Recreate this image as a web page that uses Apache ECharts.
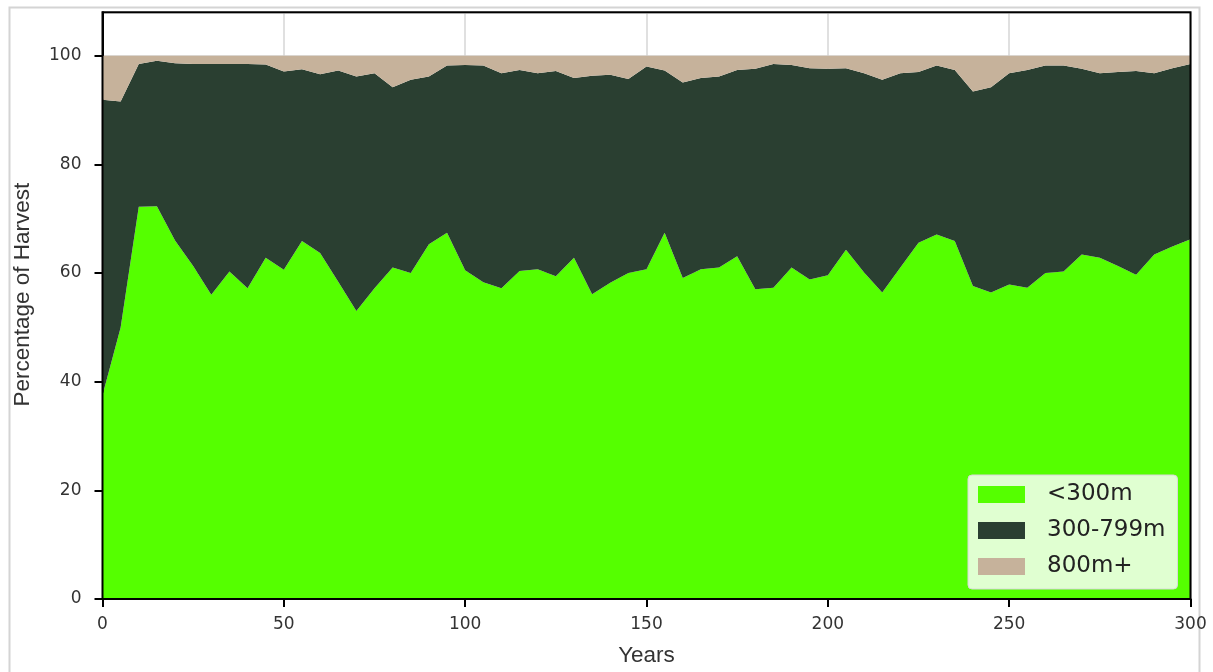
<!DOCTYPE html>
<html>
<head>
<meta charset="utf-8">
<script src="https://cdn.jsdelivr.net/npm/echarts@6/dist/echarts.min.js"></script>
<style>
html,body{margin:0;padding:0;background:#fff;}
#chart{width:1213px;height:672px;}
</style>
</head>
<body>
<div id="chart"></div>
<script>
const years = [0,5,10,15,20,25,30,35,40,45,50,55,60,65,70,75,80,85,90,95,
  100,105,110,115,120,125,130,135,140,145,150,155,160,165,170,175,180,185,190,195,
  200,205,210,215,220,225,230,235,240,245,250,255,260,265,270,275,280,285,290,295,300];

const under300 = [37.5,50.0,72.2,72.3,66.0,61.3,56.0,60.3,57.2,62.8,
  60.6,65.9,63.7,58.4,53.0,57.2,61.0,60.0,65.3,67.4,
  60.5,58.3,57.2,60.4,60.7,59.4,62.8,56.1,58.2,60.0,
  60.7,67.4,59.1,60.7,61.0,63.1,57.0,57.3,61.0,58.8,
  59.6,64.3,60.1,56.4,61.0,65.6,67.1,65.9,57.6,56.4,
  57.9,57.3,60.0,60.3,63.4,62.8,61.3,59.7,63.4,64.9,66.2];

const mid300to799 = [54.4,41.6,26.3,26.8,32.6,37.2,42.5,38.2,41.3,35.6,
  36.5,31.6,32.9,38.9,43.2,39.6,33.2,35.6,30.9,30.8,
  37.8,39.9,39.6,37.0,36.1,37.8,33.1,40.2,38.3,35.7,
  37.3,29.9,36.0,35.2,35.2,34.3,40.6,41.2,37.3,38.9,
  38.0,33.4,36.7,39.2,35.8,31.4,31.1,31.5,35.8,37.8,
  38.9,40.1,38.2,37.9,34.2,34.0,35.7,37.5,33.4,32.8,32.3];

const over800 = [8.1,8.4,1.5,0.9,1.4,1.5,1.5,1.5,1.5,1.6,
  2.9,2.5,3.4,2.7,3.8,3.2,5.8,4.4,3.8,1.8,
  1.7,1.8,3.2,2.6,3.2,2.8,4.1,3.7,3.5,4.3,
  2.0,2.7,4.9,4.1,3.8,2.6,2.4,1.5,1.7,2.3,
  2.4,2.3,3.2,4.4,3.2,3.0,1.8,2.6,6.6,5.8,
  3.2,2.6,1.8,1.8,2.4,3.2,3.0,2.8,3.2,2.3,1.5];

const seriesNames = ['<300m', '300-799m', '800m+'];
const seriesColors = ['#55ff00', '#2a3f31', '#c6b29b'];
const seriesValues = [under300, mid300to799, over800];

const TICK_FONT = 'DejaVu Sans';
const TITLE_FONT = 'Liberation Sans';

const chart = echarts.init(document.getElementById('chart'), null, {renderer: 'canvas'});

const series = seriesNames.map((name, i) => ({
  name: name,
  type: 'line',
  stack: 'total',
  data: seriesValues[i],
  showSymbol: false,
  symbol: 'none',
  lineStyle: {width: 0, opacity: 0},
  areaStyle: {color: seriesColors[i], opacity: 1},
  itemStyle: {color: seriesColors[i]},
  emphasis: {disabled: true},
  animation: false,
  z: 2
}));

const everyTenth = (idx) => years[idx] % 50 === 0;

chart.setOption({
  animation: false,
  backgroundColor: '#ffffff',
  graphic: [{
    type: 'rect',
    left: 7, top: 5,
    shape: {width: 1190, height: 700},
    style: {fill: 'none', stroke: '#d4d4d4', lineWidth: 2},
    silent: true,
    z: -10
  }],
  grid: {
    left: 102.5, right: 22.5, top: 12.3, bottom: 72,
    show: true, borderColor: '#000', borderWidth: 2,
    backgroundColor: 'transparent', containLabel: false,
    z: 10
  },
  legend: {
    orient: 'vertical',
    left: 968, top: 475,
    padding: [8, 12, 11, 10],
    itemWidth: 47, itemHeight: 17, itemGap: 13,
    icon: 'rect',
    backgroundColor: 'rgba(255,255,255,0.82)',
    borderColor: '#d8d8d8', borderWidth: 1, borderRadius: 4,
    selectedMode: false,
    textStyle: {fontFamily: TICK_FONT, fontSize: 23, lineHeight: 23, color: '#222', padding: [0, 0, 0, 17]},
    data: seriesNames,
    z: 12
  },
  xAxis: {
    type: 'category', data: years, boundaryGap: false,
    name: 'Years', nameLocation: 'middle', nameGap: 45,
    nameTextStyle: {fontFamily: TITLE_FONT, fontSize: 22.5, color: '#333'},
    axisLine: {show: true, onZero: false, lineStyle: {color: '#000', width: 2}},
    axisTick: {show: true, length: 8, interval: everyTenth, lineStyle: {color: '#000', width: 2}},
    axisLabel: {fontFamily: TICK_FONT, fontSize: 17, color: '#333', margin: 17.5, interval: everyTenth},
    splitLine: {show: true, interval: everyTenth, lineStyle: {color: '#d6d6d6', width: 1.5}}
  },
  yAxis: {
    type: 'value', min: 0, max: 108, interval: 20,
    name: 'Percentage of Harvest', nameLocation: 'middle', nameGap: 68,
    nameRotate: 90,
    nameTextStyle: {fontFamily: TITLE_FONT, fontSize: 22.5, color: '#333', padding: [0, 0, 0, 22]},
    axisLine: {show: true, lineStyle: {color: '#000', width: 2}},
    axisTick: {show: true, length: 8, lineStyle: {color: '#000', width: 2}},
    axisLabel: {
      fontFamily: TICK_FONT, fontSize: 17, color: '#333', margin: 21,
      showMaxLabel: false,
      formatter: v => (v % 20 === 0 ? String(v) : '')
    },
    splitLine: {show: true, lineStyle: {color: '#d6d6d6', width: 1.5}}
  },
  series: series
});
</script>
</body>
</html>
